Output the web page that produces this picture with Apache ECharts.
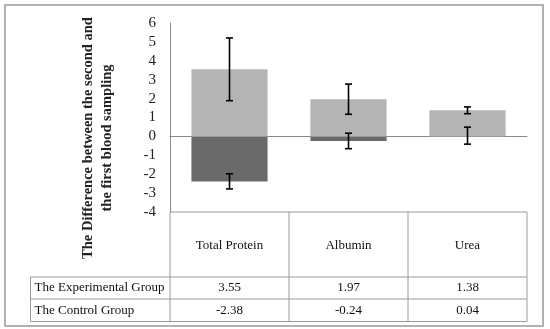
<!DOCTYPE html>
<html><head><meta charset="utf-8">
<script src="https://cdn.jsdelivr.net/npm/echarts@6/dist/echarts.min.js"></script>
<style>html,body{margin:0;padding:0;background:#fff}#c{width:550px;height:329px}</style>
</head><body><div id="c"></div>
<script>
var categories = ['Total Protein', 'Albumin', 'Urea'];
var rowNames = ['The Experimental Group', 'The Control Group'];
var experimental = [3.55, 1.97, 1.38];
var control = [-2.38, -0.24, 0.04];
var errExperimental = [1.66, 0.80, 0.18];
var errControl = [0.40, 0.41, 0.45];
var yTicks = [-4, -3, -2, -1, 0, 1, 2, 3, 4, 5, 6];
var yTitle = ['The Difference between the second and', 'the first blood sampling'];

var FONT = '"Liberation Serif", "DejaVu Serif", serif';
var LINE = '#9a9a9a';
var chart = echarts.init(document.getElementById('c'), null, {renderer: 'canvas'});

function errSeries(vals, errs, z) {
  return {
    type: 'custom', z: z,
    data: vals.map(function (v, i) { return [i, v - errs[i], v + errs[i]]; }),
    renderItem: function (params, api) {
      var lo = api.coord([api.value(0), api.value(1)]);
      var hi = api.coord([api.value(0), api.value(2)]);
      var x = lo[0], w = 3.5;
      var st = {stroke: '#000', lineWidth: 1.6};
      return {type: 'group', children: [
        {type: 'line', shape: {x1: x, y1: lo[1], x2: x, y2: hi[1]}, style: st},
        {type: 'line', shape: {x1: x - w, y1: lo[1], x2: x + w, y2: lo[1]}, style: st},
        {type: 'line', shape: {x1: x - w, y1: hi[1], x2: x + w, y2: hi[1]}, style: st}
      ]};
    }
  };
}

chart.setOption({
  animation: false,
  grid: {left: 170, right: 23, top: 23, bottom: 117},
  xAxis: {
    type: 'category', data: categories,
    axisLine: {show: true, onZero: true, lineStyle: {color: '#8a8a8a', width: 1}},
    axisTick: {show: false},
    axisLabel: {show: false}
  },
  yAxis: {
    type: 'value', min: -4, max: 6, interval: 1,
    axisLine: {show: true, lineStyle: {color: '#8a8a8a', width: 1}},
    axisTick: {show: false},
    splitLine: {show: false},
    axisLabel: {
      margin: 14, fontFamily: FONT, fontSize: 15, color: '#222',
      formatter: function (v) { return yTicks.indexOf(v) >= 0 ? String(v) : ''; }
    }
  },
  series: [
    {type: 'bar', name: rowNames[1], data: control, barWidth: '64%', barGap: '-100%',
     itemStyle: {color: '#6a6a6a'}, z: 2},
    {type: 'bar', name: rowNames[0], data: experimental, barWidth: '64%', barGap: '-100%',
     itemStyle: {color: '#b4b4b4'}, z: 3},
    errSeries(experimental, errExperimental, 5),
    errSeries(control, errControl, 5)
  ]
});

// Data table under the plot, aligned with the category axis
var rect = chart.getModel().getComponent('grid').coordinateSystem.getRect();
var x0 = rect.x, x1 = rect.x + rect.width, yTop = rect.y + rect.height;
var colW = rect.width / categories.length;
var headerBottom = yTop + 65, row1Bottom = headerBottom + 22, row2Bottom = row1Bottom + 22.5;
var leftX = 30.5;
var g = [];
function hline(xa, xb, y) { g.push({type: 'line', shape: {x1: xa, y1: y, x2: xb, y2: y}, style: {stroke: LINE, lineWidth: 1}, z: 10}); }
function vline(x, ya, yb) { g.push({type: 'line', shape: {x1: x, y1: ya, x2: x, y2: yb}, style: {stroke: LINE, lineWidth: 1}, z: 10}); }
function txt(s, x, y, align) { g.push({type: 'text', x: x, y: y, style: {text: s, font: '13px ' + FONT, fill: '#111', align: align, verticalAlign: 'middle'}, z: 11}); }
function fmt(v) { return v.toFixed(2); }

hline(x0, x1, yTop);
hline(leftX, x1, headerBottom);
hline(leftX, x1, row1Bottom);
hline(leftX, x1, row2Bottom);
vline(leftX, headerBottom, row2Bottom);
for (var i = 0; i <= categories.length; i++) vline(x0 + i * colW, yTop, row2Bottom);
for (var j = 0; j < categories.length; j++) {
  var cx = chart.convertToPixel({xAxisIndex: 0}, categories[j]);
  txt(categories[j], cx, (yTop + headerBottom) / 2 + 1, 'center');
  txt(fmt(experimental[j]), cx, (headerBottom + row1Bottom) / 2, 'center');
  txt(fmt(control[j]), cx, (row1Bottom + row2Bottom) / 2, 'center');
}
txt(rowNames[0], leftX + 4, (headerBottom + row1Bottom) / 2, 'left');
txt(rowNames[1], leftX + 4, (row1Bottom + row2Bottom) / 2, 'left');
// y-axis title (two lines, rotated)
g.push({type: 'text', x: 98, y: 138, rotation: Math.PI / 2,
  style: {text: yTitle.join('\n'), font: 'bold 14.5px ' + FONT, fill: '#222', align: 'center', verticalAlign: 'middle', lineHeight: 19}, z: 11});
// outer frame
g.push({type: 'rect', shape: {x: 5, y: 5, width: 538, height: 321}, style: {fill: 'none', stroke: '#999', lineWidth: 1.5}, z: 12});
chart.setOption({graphic: g});
</script></body></html>
